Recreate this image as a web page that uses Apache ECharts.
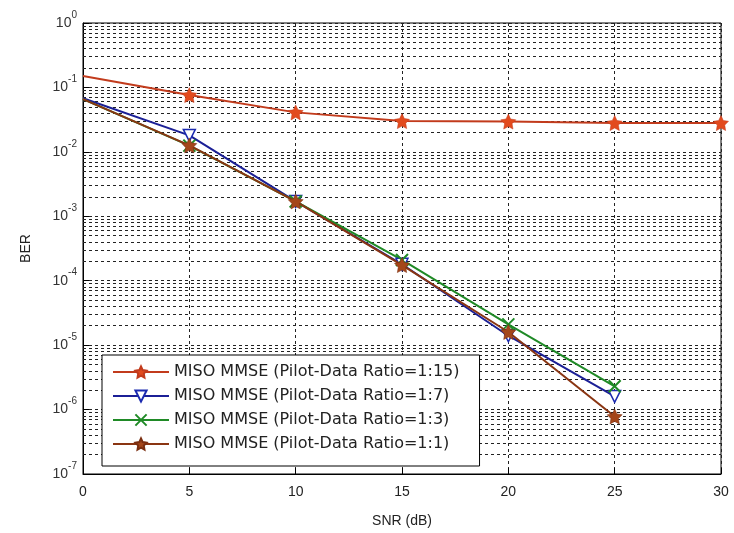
<!DOCTYPE html>
<html>
<head>
<meta charset="utf-8">
<script src="https://cdn.jsdelivr.net/npm/echarts@6/dist/echarts.min.js"></script>
<style>html,body{margin:0;padding:0;background:#fff}#c{width:734px;height:533px}</style>
</head>
<body>
<div id="c"></div>
<script>
const snr = [0, 5, 10, 15, 20, 25, 30];
const snrShort = [0, 5, 10, 15, 20, 25];
const ber_1_15 = [0.15, 0.076, 0.041, 0.030, 0.0295, 0.028, 0.028];
const ber_1_7  = [0.068, 0.018, 0.0017, 1.8e-4, 1.4e-5, 1.6e-6];
const ber_1_3  = [0.066, 0.0125, 0.0017, 2.1e-4, 2.1e-5, 2.3e-6];
const ber_1_1  = [0.066, 0.0126, 0.0017, 1.75e-4, 1.6e-5, 7.8e-7];
const names = [
  'MISO MMSE (Pilot-Data Ratio=1:15)',
  'MISO MMSE (Pilot-Data Ratio=1:7)',
  'MISO MMSE (Pilot-Data Ratio=1:3)',
  'MISO MMSE (Pilot-Data Ratio=1:1)'
];
const xTicks = [0, 5, 10, 15, 20, 25, 30];
const yDecades = [-7, -6, -5, -4, -3, -2, -1, 0];

const star = 'path://M0,-10L2.94,-4.05L9.51,-3.09L4.76,1.55L5.88,8.09L0,5L-5.88,8.09L-4.76,1.55L-9.51,-3.09L-2.94,-4.05Z';
const cross = 'path://M0,0L10,10M10,0L0,10';

function pts(xs, ys) {
  return ys.map((v, i) => i === 0 ? { value: [xs[i], v], symbol: 'none' } : [xs[i], v]);
}
const minorVals = [];
for (let e = -7; e < 0; e++) for (let m = 2; m <= 9; m++) minorVals.push({ yAxis: m * Math.pow(10, e) });

const chart = echarts.init(document.getElementById('c'), null, { renderer: 'canvas' });
chart.setOption({
  animation: false,
  backgroundColor: '#fff',
  grid: { left: 83, top: 23, right: 13, bottom: 54, show: true, borderColor: '#000', borderWidth: 1, backgroundColor: 'transparent' },
  xAxis: {
    type: 'value', min: 0, max: 30, interval: 5,
    name: 'SNR (dB)', nameLocation: 'middle', nameGap: 40,
    nameTextStyle: { fontFamily: 'Liberation Sans', fontSize: 14, color: '#222' },
    axisLine: { lineStyle: { color: '#000' } },
    axisTick: { inside: true, length: 6, lineStyle: { color: '#000' } },
    axisLabel: { fontFamily: 'Liberation Sans', fontSize: 14, color: '#222', margin: 11,
      formatter: v => xTicks.includes(v) ? String(v) : '' },
    splitLine: { show: true, lineStyle: { color: '#222', type: [3, 3], width: 1 } }
  },
  yAxis: {
    type: 'log', logBase: 10, min: 1e-7, max: 1,
    name: 'BER', nameLocation: 'middle', nameGap: 50, nameRotate: 90,
    nameTextStyle: { fontFamily: 'Liberation Sans', fontSize: 14, color: '#222' },
    axisLine: { lineStyle: { color: '#000' } },
    axisTick: { inside: true, length: 6, lineStyle: { color: '#000' } },
    axisLabel: {
      margin: 6, color: '#333',
      formatter: v => { const e = Math.round(Math.log10(v)); return yDecades.includes(e) ? '{a|10}{b|' + e + '}' : ''; },
      rich: {
        a: { fontFamily: 'Liberation Sans', fontSize: 14, color: '#333' },
        b: { fontFamily: 'Liberation Sans', fontSize: 10, color: '#333', padding: [0, 0, 16, 0] }
      }
    },
    splitLine: { show: true, lineStyle: { color: '#222', type: [3, 3], width: 1 } }
  },
  legend: {
    orient: 'vertical', left: 102, top: 355, z: 20,
    data: names,
    itemWidth: 56, itemHeight: 14, itemGap: 8,
    padding: [9, 20, 14, 10],
    backgroundColor: '#fff', borderColor: '#000', borderWidth: 1,
    textStyle: { fontFamily: 'DejaVu Sans', fontSize: 16, lineHeight: 16, color: '#222' }
  },
  series: [
    {
      name: 'minor', type: 'line', data: [], silent: true, z: 1,
      markLine: { silent: true, z: 1, precision: 12, symbol: ['none', 'none'], label: { show: false },
        lineStyle: { color: '#222', type: [3, 3], width: 1 }, emphasis: { disabled: true },
        data: minorVals }
    },
    {
      name: names[0], type: 'line', data: pts(snr, ber_1_15), z: 3,
      symbol: star, symbolSize: 15,
      lineStyle: { color: '#c23b1c', width: 2 },
      itemStyle: { color: '#e24a1d', borderColor: '#c23b1c', borderWidth: 0.5 }
    },
    {
      name: names[1], type: 'line', data: pts(snrShort, ber_1_7), z: 3,
      symbol: 'triangle', symbolRotate: 180, symbolSize: 12,
      lineStyle: { color: '#1b1f96', width: 2 },
      itemStyle: { color: '#fff', borderColor: '#1b2ab0', borderWidth: 1.5 }
    },
    {
      name: names[2], type: 'line', data: pts(snrShort, ber_1_3), z: 3,
      symbol: cross, symbolSize: 12,
      lineStyle: { color: '#1f8a26', width: 2 },
      itemStyle: { color: '#1f8a26', borderColor: '#1f8a26', borderWidth: 2 }
    },
    {
      name: names[3], type: 'line', data: pts(snrShort, ber_1_1), z: 4,
      symbol: star, symbolSize: 15,
      lineStyle: { color: '#8a3512', width: 2 },
      itemStyle: { color: '#a4461a', borderColor: '#7a2e10', borderWidth: 0.5 }
    }
  ]
});
</script>
</body>
</html>
